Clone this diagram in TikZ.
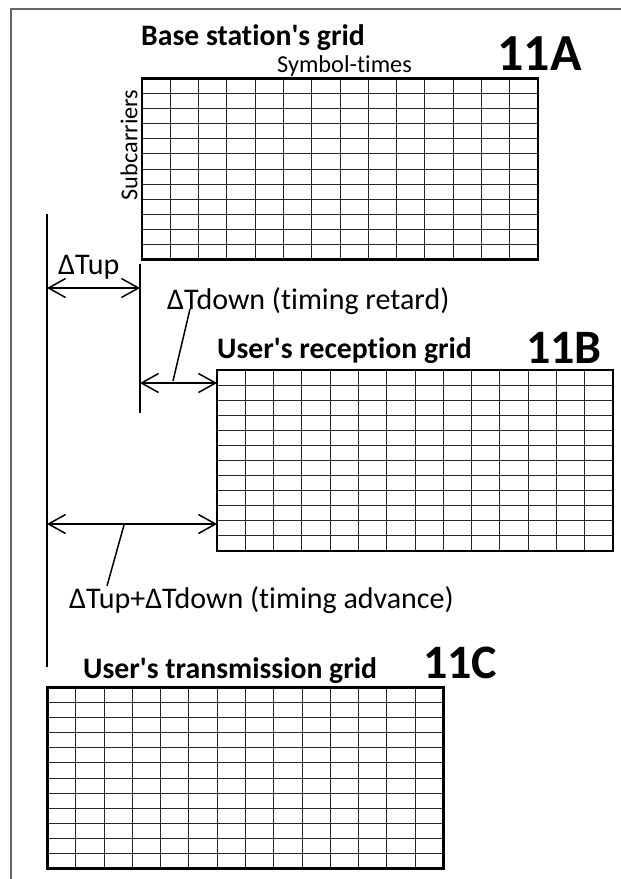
\documentclass[tikz,border=0pt]{standalone}
\usepackage{fontspec}
\setmainfont{Carlito}[Ligatures={NoCommon}]
\usetikzlibrary{arrows.meta,calc}
\newcommand\mygrid[1]{%
  \foreach \i in {1,...,13}
    \draw[gridline] ($(#1.south west)!\i/14!(#1.south east)$) -- ($(#1.north west)!\i/14!(#1.north east)$);
  \foreach \j in {1,...,11}
    \draw[gridline] ($(#1.south west)!\j/12!(#1.north west)$) -- ($(#1.south east)!\j/12!(#1.north east)$);
  \draw[gridborder] (#1.south west) rectangle (#1.north east);
}
\newcommand\apos{\textquotesingle}
\begin{document}
\begin{tikzpicture}[x=1pt,y=-1pt,
  gridbox/.style={minimum width=396pt,minimum height=181pt,inner sep=0pt,outer sep=0pt},
  gridline/.style={line width=1pt,black!85},
  gridborder/.style={line width=2.6pt,black},
  frameline/.style={line width=1.3pt,black!60},
  vline/.style={line width=1.5pt,black},
  dimarrow/.style={line width=1.5pt,{Straight Barb[length=17pt,width=19pt]}-{Straight Barb[length=17pt,width=19pt]}},
  leader/.style={line width=1.5pt},
  txt/.style={inner sep=0pt,font=\fontsize{30}{32}\selectfont},
  small/.style={inner sep=0pt,font=\fontsize{24.3}{26}\selectfont},
  title/.style={inner sep=0pt,font=\bfseries\fontsize{29.7}{31}\selectfont},
  big/.style={inner sep=0pt,font=\bfseries\fontsize{48}{50}\selectfont}]
\useasboundingbox (0,0) rectangle (621,879);
% frame
\coordinate (f1) at (10,9);
\coordinate (f2) at (621,9);
\coordinate (f3) at (11,879);
\draw[frameline] (f2) -- (f1 -| f3) -- (f3);
% grids
\node[gridbox] (gA) at (340,169) {};
\node[gridbox] (gB) at (415,460.5) {};
\node[gridbox] (gC) at (245.5,778) {};
\mygrid{gA}
\mygrid{gB}
\mygrid{gC}
% labels
\node[title,anchor=base west] (tA) at (141,45) {Base station\apos s grid};
\node[small,anchor=base west] (sym) at (277,72) {Symbol-times};
\node[small,rotate=90] (sub) at (129,145) {Subcarriers};
\node[big,font=\bfseries\fontsize{52}{54}\selectfont,anchor=base east] (lA) at (582,70) {11A};
\node[title,anchor=base west] (tB) at (217,358) {User\apos s reception grid};
\node[big,anchor=base east] (lB) at (602,363) {11B};
\node[title,anchor=base west] (tC) at (83,678) {User\apos s transmission grid};
\node[big,anchor=base west] (lC) at (423,678) {11C};
\node[txt,anchor=base west] (dup) at (58,274) {ΔTup};
\node[txt,anchor=base west] (ddown) at (167,309) {ΔTdown (timing retard)};
\node[txt,anchor=base west] (dadv) at (69,608) {ΔTup+ΔTdown (timing advance)};
% vertical reference lines
\coordinate (v1t) at (47,214);
\coordinate (v1b) at (47,667);
\coordinate (v2t) at (140,264);
\coordinate (v2b) at (140,413);
\draw[vline] (v1t) -- (v1b);
\draw[vline] (v2t) -- (v2b);
% dimension arrows
\coordinate (upL) at (47,288);
\coordinate (upR) at (140,288);
\draw[dimarrow] (upL) -- (upR);
\coordinate (dnL) at (140,383);
\draw[dimarrow] (dnL) -- (dnL -| gB.west);
\coordinate (adL) at (47,524);
\draw[dimarrow] (adL) -- (adL -| gB.west);
% leaders
\coordinate (ld1a) at (173,381);
\coordinate (ld1b) at (190,309);
\draw[leader] (ld1a) -- (ld1b);
\coordinate (ld2a) at (124,525);
\coordinate (ld2b) at (107,586);
\draw[leader] (ld2a) -- (ld2b);
\end{tikzpicture}
\end{document}
